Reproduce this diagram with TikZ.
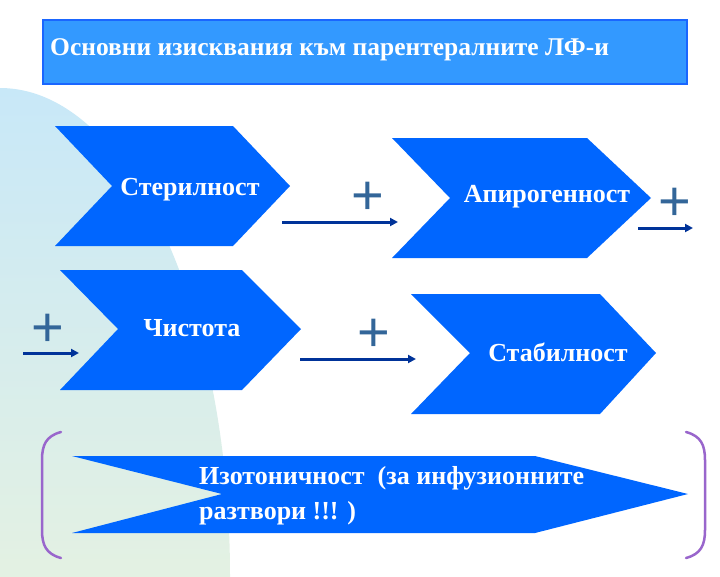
\documentclass[tikz,border=0pt]{standalone}
\usepackage{fontspec}
\setmainfont{Liberation Serif}
\newfontfamily\plusfont{Liberation Sans}
\usetikzlibrary{arrows.meta}
\definecolor{chev}{RGB}{0,102,255}
\definecolor{titlef}{RGB}{51,153,255}
\definecolor{titled}{RGB}{26,102,255}
\definecolor{navy}{RGB}{0,51,153}
\definecolor{plusc}{RGB}{51,102,153}
\definecolor{brk}{RGB}{153,102,204}
\definecolor{bgtop}{RGB}{200,232,248}
\definecolor{bgbot}{RGB}{255,250,205}
\tikzset{
  chevron/.style={fill=chev,draw=none},
  lbl/.style={text=white,font=\bfseries\fontsize{26}{30}\selectfont,inner sep=0pt},
  plussign/.style={text=plusc,font=\plusfont\fontsize{56}{56}\selectfont,inner sep=0pt},
  conn/.style={navy,line width=3pt,-{Triangle[length=8pt,width=8pt]}},
  bracket/.style={brk,line width=2.5pt,line cap=round}
}
\begin{document}
\begin{tikzpicture}[x=1pt,y=-1pt]
\useasboundingbox (0,0) rectangle (720,576);
\fill[white] (0,0) rectangle (720,576);
% background shape
\begin{scope}
\clip (0,0) rectangle (720,576);
\shade[top color=bgtop,bottom color=bgbot] (0,576) ellipse[x radius=230,y radius=488];
\end{scope}
% title
\node[draw=titled,line width=2pt,fill=titlef,minimum width=644,minimum height=64,anchor=north west,inner sep=0pt] (title) at (42,19) {};
\node[text=white,font=\bfseries\fontsize{25.5}{30}\selectfont,anchor=west,inner sep=0pt] (titletext) at (50,50) {Основни изисквания към парентералните ЛФ-и};
% chevrons
\fill[chevron] (55,126) -- (233,126) -- (290,186) -- (233,246) -- (55,246) -- (112,186) -- cycle;
\node[lbl] (ster) at (190,190) {Стерилност};
\fill[chevron] (392,138) -- (587,138) -- (651,198) -- (587,258) -- (392,258) -- (450,198) -- cycle;
\node[lbl] (apir) at (547,197) {Апирогенност};
\fill[chevron] (60,270) -- (242,270) -- (301,329) -- (242,390) -- (60,390) -- (118,329) -- cycle;
\node[lbl] (chist) at (192,328) {Чистота};
\fill[chevron] (411,294) -- (600,294) -- (656,353) -- (600,414) -- (411,414) -- (470,353) -- cycle;
\node[lbl] (stab) at (558,352) {Стабилност};
\fill[chevron] (72,456) -- (535,456) -- (688,494) -- (535,533) -- (72,533) -- (222,494) -- cycle;
\node[lbl,align=left,anchor=north west,font=\bfseries\fontsize{26}{35}\selectfont] (izo) at (199,466) {Изотоничност~ (за инфузионните\\разтвори !!! )};
% plus signs and arrows
\node[plussign] (p1) at (368,198) {+};
\coordinate (a1s) at (282,222); \coordinate (a1e) at (398,222);
\draw[conn] (a1s) -- (a1e);
\node[plussign] (p2) at (675,204) {+};
\coordinate (a2s) at (638,228); \coordinate (a2e) at (693,228);
\draw[conn] (a2s) -- (a2e);
\node[plussign] (p3) at (48,330) {+};
\coordinate (a3s) at (23,353); \coordinate (a3e) at (79,353);
\draw[conn] (a3s) -- (a3e);
\node[plussign] (p4) at (374,335) {+};
\coordinate (a4s) at (300,359); \coordinate (a4e) at (416,359);
\draw[conn] (a4s) -- (a4e);
% brackets
\draw[bracket] (61,432) .. controls (46,436) and (42,445) .. (42,460) -- (42,530) .. controls (42,545) and (46,554) .. (61,558);
\draw[bracket] (686,432) .. controls (701,436) and (705,445) .. (705,460) -- (705,530) .. controls (705,545) and (701,554) .. (686,558);
\end{tikzpicture}
\end{document}
